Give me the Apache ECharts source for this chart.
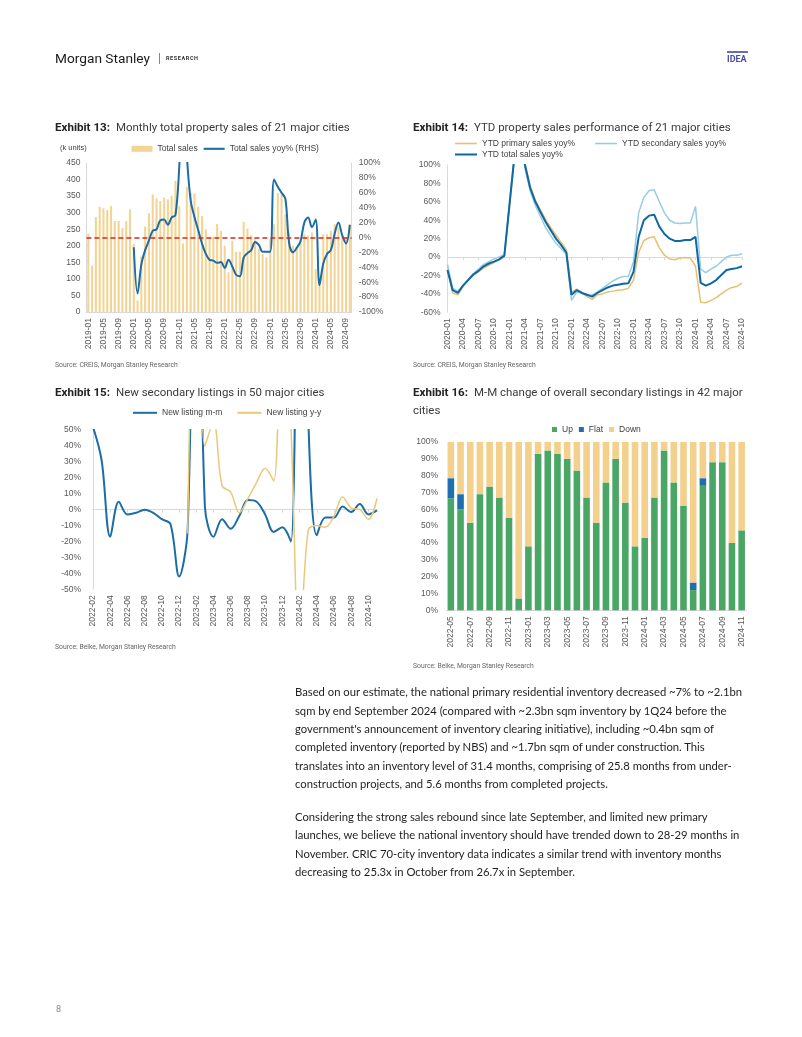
<!DOCTYPE html>
<html>
<head>
<meta charset="utf-8">
<script src="https://cdn.jsdelivr.net/npm/echarts@6.0.0/dist/echarts.min.js"></script>
<style>
html,body{margin:0;padding:0;background:#fff;}
#page{position:relative;width:802px;height:1037px;overflow:hidden;background:#fff;}
#chart{position:absolute;left:0;top:0;width:802px;height:1037px;}
.t{position:absolute;white-space:nowrap;line-height:1.2;transform:translateY(-50%);font-family:Roboto,"Liberation Sans",sans-serif;}
.ttl b{font-weight:700;color:#222;}
.ttl span{font-weight:400;color:#3a3a3a;margin-left:6px;}
.src{color:#666;}
.body{font-family:Lato,"Open Sans",sans-serif;color:#1e1e1e;}
</style>
</head>
<body>
<div id="page">
  <div id="chart"></div>

  <div class="t" id="msName" style="left:55px;top:58px;color:#1b1b1b;">Morgan Stanley</div>
  <div class="t" style="left:158px;top:58px;color:#777;font-size:12px;">|</div>
  <div class="t" style="left:166px;top:58px;color:#333;font-size:5.5px;font-weight:700;letter-spacing:0.6px;">RESEARCH</div>
  <div style="position:absolute;left:727px;top:51px;width:21px;height:2px;background:#6a6db3;"></div>
  <div class="t" style="left:727px;top:59px;color:#4b4fa6;font-size:9px;font-weight:700;">IDEA</div>

  <div class="t ttl" style="left:55px;top:126px;"><b>Exhibit 13:</b><span>Monthly total property sales of 21 major cities</span></div>
  <div class="t ttl" style="left:413px;top:126px;"><b>Exhibit 14:</b><span>YTD property sales performance of 21 major cities</span></div>
  <div class="t ttl" style="left:55px;top:391px;"><b>Exhibit 15:</b><span>New secondary listings in 50 major cities</span></div>
  <div class="t ttl" style="left:413px;top:391px;"><b>Exhibit 16:</b><span>M-M change of overall secondary listings in 42 major</span></div>
  <div class="t ttl" style="left:413px;top:409px;"><span style="margin-left:0">cities</span></div>

  <div class="t" style="left:60px;top:147px;font-size:7.5px;color:#404040;font-family:'Liberation Sans',Arial,sans-serif;">(k units)</div>

  <div class="t src" style="left:55px;top:365px;">Source: CREIS, Morgan Stanley Research</div>
  <div class="t src" style="left:413px;top:365px;">Source: CREIS, Morgan Stanley Research</div>
  <div class="t src" style="left:55px;top:647px;">Source: Beike, Morgan Stanley Research</div>
  <div class="t src" style="left:413px;top:666px;">Source: Beike, Morgan Stanley Research</div>

  <div class="t body" style="left:295px;top:692px;">Based on our estimate, the national primary residential inventory decreased ~7% to ~2.1bn</div>
  <div class="t body" style="left:295px;top:710.5px;">sqm by end September 2024 (compared with ~2.3bn sqm inventory by 1Q24 before the</div>
  <div class="t body" style="left:295px;top:729px;">government's announcement of inventory clearing initiative), including ~0.4bn sqm of</div>
  <div class="t body" style="left:295px;top:747.3px;">completed inventory (reported by NBS) and ~1.7bn sqm of under construction. This</div>
  <div class="t body" style="left:295px;top:765.6px;">translates into an inventory level of 31.4 months, comprising of 25.8 months from under-</div>
  <div class="t body" style="left:295px;top:784px;">construction projects, and 5.6 months from completed projects.</div>

  <div class="t body" style="left:295px;top:817px;">Considering the strong sales rebound since late September, and limited new primary</div>
  <div class="t body" style="left:295px;top:835.3px;">launches, we believe the national inventory should have trended down to 28-29 months in</div>
  <div class="t body" style="left:295px;top:853.6px;">November. CRIC 70-city inventory data indicates a similar trend with inventory months</div>
  <div class="t body" style="left:295px;top:872px;">decreasing to 25.3x in October from 26.7x in September.</div>

  <div class="t" style="left:56px;top:1009px;font-size:9px;color:#888;">8</div>
</div>

<script>
// ---------- DATA ----------
const cats13 = [
 '2019-01','2019-02','2019-03','2019-04','2019-05','2019-06','2019-07','2019-08','2019-09','2019-10','2019-11','2019-12',
 '2020-01','2020-02','2020-03','2020-04','2020-05','2020-06','2020-07','2020-08','2020-09','2020-10','2020-11','2020-12',
 '2021-01','2021-02','2021-03','2021-04','2021-05','2021-06','2021-07','2021-08','2021-09','2021-10','2021-11','2021-12',
 '2022-01','2022-02','2022-03','2022-04','2022-05','2022-06','2022-07','2022-08','2022-09','2022-10','2022-11','2022-12',
 '2023-01','2023-02','2023-03','2023-04','2023-05','2023-06','2023-07','2023-08','2023-09','2023-10','2023-11','2023-12',
 '2024-01','2024-02','2024-03','2024-04','2024-05','2024-06','2024-07','2024-08','2024-09','2024-10'];
const totalSales13 = [
 237,140,287,318,313,308,320,275,275,253,275,310,
 205,35,168,258,298,355,343,335,345,340,351,396,
 320,207,378,360,358,318,290,250,225,228,266,245,
 200,120,215,182,182,273,252,232,220,190,175,165,
 220,265,360,355,295,240,200,195,215,235,230,240,
 130,105,235,235,245,265,255,230,225,265];
const totalYoy13 = [
 null,null,null,null,null,null,null,null,null,null,null,null,
 -13,-75,-36,-17,-4,9,11,23,24,17,27,30,
 95,200,110,50,28,10,-8,-22,-30,-31,-34,-33,
 -41,-30,-39,-50,-52,-27,-21,-17,-6,-10,-19,-19,
 -19,78,68,60,52,-8,-20,-14,-5,20,27,14,
 24,-64,-35,-22,-17,5,20,3,-8,17];

const cats14 = [
 '2020-01','2020-02','2020-03','2020-04','2020-05','2020-06','2020-07','2020-08','2020-09','2020-10','2020-11','2020-12',
 '2021-01','2021-02','2021-03','2021-04','2021-05','2021-06','2021-07','2021-08','2021-09','2021-10','2021-11','2021-12',
 '2022-01','2022-02','2022-03','2022-04','2022-05','2022-06','2022-07','2022-08','2022-09','2022-10','2022-11','2022-12',
 '2023-01','2023-02','2023-03','2023-04','2023-05','2023-06','2023-07','2023-08','2023-09','2023-10','2023-11','2023-12',
 '2024-01','2024-02','2024-03','2024-04','2024-05','2024-06','2024-07','2024-08','2024-09','2024-10'];
const primaryYoy14 = [
 -14,-39,-41,-32,-25,-20,-16,-12,-9,-6,-3,0,
 55,110,130,101,78,62,51,41,32,24,16,8,
 -38,-35,-38,-43,-46,-41,-40,-38,-37,-36,-35.5,-34,
 -25,5,18,21,22,10,2,-2,-3,-1,-0.5,-1,
 -10,-49,-49.5,-47,-44,-40,-36,-33,-32,-28];
const secondaryYoy14 = [
 -8,-34,-37,-31,-24,-18,-13,-8,-5,-2,0,3,
 58,115,130,96,72,56,44,32,23,15,9,3,
 -47,-38,-39,-42,-41,-38,-34,-30,-26,-23,-21,-21,
 -5,48,65,72,73,60,48,40,37,36.5,37,37,
 55,-13,-17,-13,-10,-5,0,2,2,3.5];
const totalYoy14 = [
 -14,-36,-39,-31,-25,-19,-15,-10,-7,-5,-2.5,1.5,
 57,112,130,100,75,60,49,38,29,20,13,5,
 -41,-36,-39,-41,-43,-39,-36,-33,-31,-30,-29,-28.5,
 -16,22,40,45,46,33,25,20,17.5,17.5,18.5,18.5,
 22,-28,-31,-28.5,-25,-19.5,-14,-13,-12,-10];

const cats15 = [
 '2022-02','2022-03','2022-04','2022-05','2022-06','2022-07','2022-08','2022-09','2022-10','2022-11','2022-12',
 '2023-01','2023-02','2023-03','2023-04','2023-05','2023-06','2023-07','2023-08','2023-09','2023-10','2023-11','2023-12',
 '2024-01','2024-02','2024-03','2024-04','2024-05','2024-06','2024-07','2024-08','2024-09','2024-10','2024-11'];
const listingMM15 = [
 52,31,-17,5,-3,-2,0,-2,-6,-9,-42,
 -12,250,2,-17,-6,-12,-4,6,5,-3,-14,-11,
 -20,300,60,-16,-5,-5,2,-1.5,3.5,-3,-0.5];
const listingYY15 = [
 null,null,null,null,null,null,null,null,null,null,null,
 -15,200,40,55,15,11,-2,7,17,26,18,150,
 52,-90,-13,-10,-11,-4,8,1,0,-6,7];

const cats16 = [
 '2022-05','2022-06','2022-07','2022-08','2022-09','2022-10','2022-11','2022-12',
 '2023-01','2023-02','2023-03','2023-04','2023-05','2023-06','2023-07','2023-08','2023-09','2023-10','2023-11','2023-12',
 '2024-01','2024-02','2024-03','2024-04','2024-05','2024-06','2024-07','2024-08','2024-09','2024-10','2024-11'];
const up16   = [66.5,60,52,69,73.5,67,55,7, 38,93,95,93,90,83,67,52,76,90,64,38, 43,67,95,76,62,12,74,88,88,40,47.5];
const flat16 = [12,9,0,0,0,0,0,0, 0,0,0,0,0,0,0,0,0,0,0,0, 0,0,0,0,0,4.5,4.5,0,0,0,0];
const down16 = [21.5,31,48,31,26.5,33,45,93, 62,7,5,7,10,17,33,48,24,10,36,62, 57,33,5,24,38,83.5,21.5,12,12,60,52.5];

// ---------- TEXT FITTING ----------
const ctx = document.createElement('canvas').getContext('2d');
function tw(text, weight, family){ ctx.font = weight + ' 100px ' + family; return ctx.measureText(text).width; }
const boldSize = 100*55/tw('Exhibit 13:','700','Roboto');
const regSize = 100*234/tw('Monthly total property sales of 21 major cities','400','Roboto');
document.querySelectorAll('.ttl b').forEach(e=>e.style.fontSize=boldSize+'px');
document.querySelectorAll('.ttl span').forEach(e=>e.style.fontSize=regSize+'px');
const srcSize = 100*123/tw('Source: CREIS, Morgan Stanley Research','400','Roboto');
document.querySelectorAll('.src').forEach(e=>e.style.fontSize=srcSize+'px');
const bodySize = 100*448/tw('Based on our estimate, the national primary residential inventory decreased ~7% to ~2.1bn','400','Lato');
document.querySelectorAll('.body').forEach(e=>e.style.fontSize=bodySize+'px');
document.getElementById('msName').style.fontSize = (100*95/tw('Morgan Stanley','400','Roboto'))+'px';

// ---------- CHART ----------
const LBL = {fontFamily:'"Liberation Sans", Arial, sans-serif', fontSize:8.5, color:'#595959'};
const LEG = {fontFamily:'"Liberation Sans", Arial, sans-serif', fontSize:8.5, color:'#404040'};
const GREY = '#d9d9d9';
const BLUE = '#1c6ca6';
const TAN = '#ebc878';

const chart = echarts.init(document.getElementById('chart'), null, {renderer:'canvas'});
chart.setOption({
  animation:false,
  grid:[
    {left:86.4, top:163, width:265.3, height:149},
    {left:447.5, top:165, width:294.5, height:147.3},
    {left:93, top:430, width:284, height:159.3},
    {left:446, top:442, width:300.5, height:168.3}
  ],
  legend:[
    {left:131.5, top:144.3, padding:0, itemGap:6, itemWidth:21, itemHeight:6, textStyle:LEG,
     data:[{name:'Total sales', icon:'rect'},
           {name:'Total sales yoy% (RHS)', icon:'path://M0,0H20V2H0Z', itemStyle:{color:BLUE}}]},
    {left:455, top:139, padding:0, itemGap:20, itemWidth:22, itemHeight:1.6, textStyle:LEG, icon:'rect',
     data:['YTD primary sales yoy%','YTD secondary sales yoy%']},
    {left:455, top:150, padding:0, itemWidth:22, itemHeight:2, textStyle:LEG, icon:'rect',
     data:['YTD total sales yoy%']},
    {left:133, top:408.3, padding:0, itemGap:15, itemWidth:24, itemHeight:2, textStyle:LEG, icon:'rect',
     data:['New listing m-m','New listing y-y']},
    {left:552, top:425, padding:0, itemGap:6, itemWidth:5, itemHeight:5, textStyle:LEG, icon:'rect',
     data:['Up','Flat','Down']}
  ],
  xAxis:[
    {gridIndex:0, type:'category', data:cats13, boundaryGap:true,
     axisLine:{onZero:false, lineStyle:{color:GREY}}, axisTick:{show:false},
     axisLabel:Object.assign({rotate:90, interval:3, margin:6}, LBL)},
    {gridIndex:1, type:'category', data:cats14, boundaryGap:false,
     axisLine:{show:false, onZero:false}, axisTick:{show:false},
     axisLabel:Object.assign({rotate:90, interval:2, margin:6}, LBL)},
    {gridIndex:1, type:'category', data:cats14, boundaryGap:false,
     axisLine:{onZero:true, lineStyle:{color:GREY}},
     axisTick:{show:true, interval:2, inside:true, length:3, lineStyle:{color:GREY}},
     axisLabel:{show:false}},
    {gridIndex:2, type:'category', data:cats15, boundaryGap:false,
     axisLine:{show:false, onZero:false}, axisTick:{show:false},
     axisLabel:Object.assign({rotate:90, interval:1, margin:6}, LBL)},
    {gridIndex:2, type:'category', data:cats15, boundaryGap:false,
     axisLine:{onZero:true, lineStyle:{color:GREY}},
     axisTick:{show:true, interval:1, inside:true, length:3, lineStyle:{color:GREY}},
     axisLabel:{show:false}},
    {gridIndex:3, type:'category', data:cats16, boundaryGap:true,
     axisLine:{onZero:false, lineStyle:{color:GREY}}, axisTick:{show:false},
     axisLabel:Object.assign({rotate:90, interval:1, margin:6}, LBL)}
  ],
  yAxis:[
    {gridIndex:0, type:'value', min:0, max:450, interval:50,
     axisLine:{show:true, lineStyle:{color:GREY}}, axisTick:{show:false}, splitLine:{show:false},
     axisLabel:Object.assign({margin:6}, LBL)},
    {gridIndex:0, type:'value', position:'right', min:-100, max:100, interval:20,
     axisLine:{show:true, lineStyle:{color:GREY}}, axisTick:{show:false}, splitLine:{show:false},
     axisLabel:Object.assign({margin:7, formatter:'{value}%'}, LBL)},
    {gridIndex:1, type:'value', min:-60, max:100, interval:20,
     axisLine:{show:true, lineStyle:{color:GREY}}, axisTick:{show:false}, splitLine:{show:false},
     axisLabel:Object.assign({margin:7, formatter:'{value}%'}, LBL)},
    {gridIndex:2, type:'value', min:-50, max:50, interval:10,
     axisLine:{show:true, lineStyle:{color:GREY}}, axisTick:{show:false}, splitLine:{show:false},
     axisLabel:Object.assign({margin:12, formatter:'{value}%'}, LBL)},
    {gridIndex:3, type:'value', min:0, max:100, interval:10,
     axisLine:{show:false}, axisTick:{show:false}, splitLine:{show:false},
     axisLabel:Object.assign({margin:8, formatter:'{value}%'}, LBL)}
  ],
  series:[
    {name:'Total sales', type:'bar', xAxisIndex:0, yAxisIndex:0, data:totalSales13,
     barWidth:'55%', itemStyle:{color:'#f3d494'}},
    {name:'Total sales yoy% (RHS)', type:'line', xAxisIndex:0, yAxisIndex:1, data:totalYoy13,
     smooth:0.35, symbol:'none', lineStyle:{width:2, color:BLUE}, itemStyle:{color:BLUE},
     markLine:{silent:true, symbol:'none', label:{show:false},
       lineStyle:{color:'#d42a1e', type:[5,3], width:1.5}, data:[{yAxis:0}]}},

    {name:'YTD primary sales yoy%', type:'line', xAxisIndex:1, yAxisIndex:2, data:primaryYoy14,
     symbol:'none', lineStyle:{width:1.5, color:'#e8c06f'}, itemStyle:{color:'#e8c06f'}},
    {name:'YTD secondary sales yoy%', type:'line', xAxisIndex:1, yAxisIndex:2, data:secondaryYoy14,
     symbol:'none', lineStyle:{width:1.5, color:'#98cde2'}, itemStyle:{color:'#98cde2'}},
    {name:'YTD total sales yoy%', type:'line', xAxisIndex:1, yAxisIndex:2, data:totalYoy14,
     symbol:'none', lineStyle:{width:2, color:'#0f67a3'}, itemStyle:{color:'#0f67a3'}},

    {name:'New listing m-m', type:'line', xAxisIndex:3, yAxisIndex:3, data:listingMM15,
     smooth:0.35, symbol:'none', lineStyle:{width:2, color:BLUE}, itemStyle:{color:BLUE}},
    {name:'New listing y-y', type:'line', xAxisIndex:3, yAxisIndex:3, data:listingYY15,
     smooth:0.35, symbol:'none', lineStyle:{width:1.5, color:TAN}, itemStyle:{color:TAN}},

    {name:'Up', type:'bar', stack:'s16', xAxisIndex:5, yAxisIndex:4, data:up16,
     barWidth:'68%', itemStyle:{color:'#4aa664'}},
    {name:'Flat', type:'bar', stack:'s16', xAxisIndex:5, yAxisIndex:4, data:flat16,
     barWidth:'68%', itemStyle:{color:'#1f6fb0'}},
    {name:'Down', type:'bar', stack:'s16', xAxisIndex:5, yAxisIndex:4, data:down16,
     barWidth:'68%', itemStyle:{color:'#f3d08b'}}
  ]
});
</script>
</body>
</html>
